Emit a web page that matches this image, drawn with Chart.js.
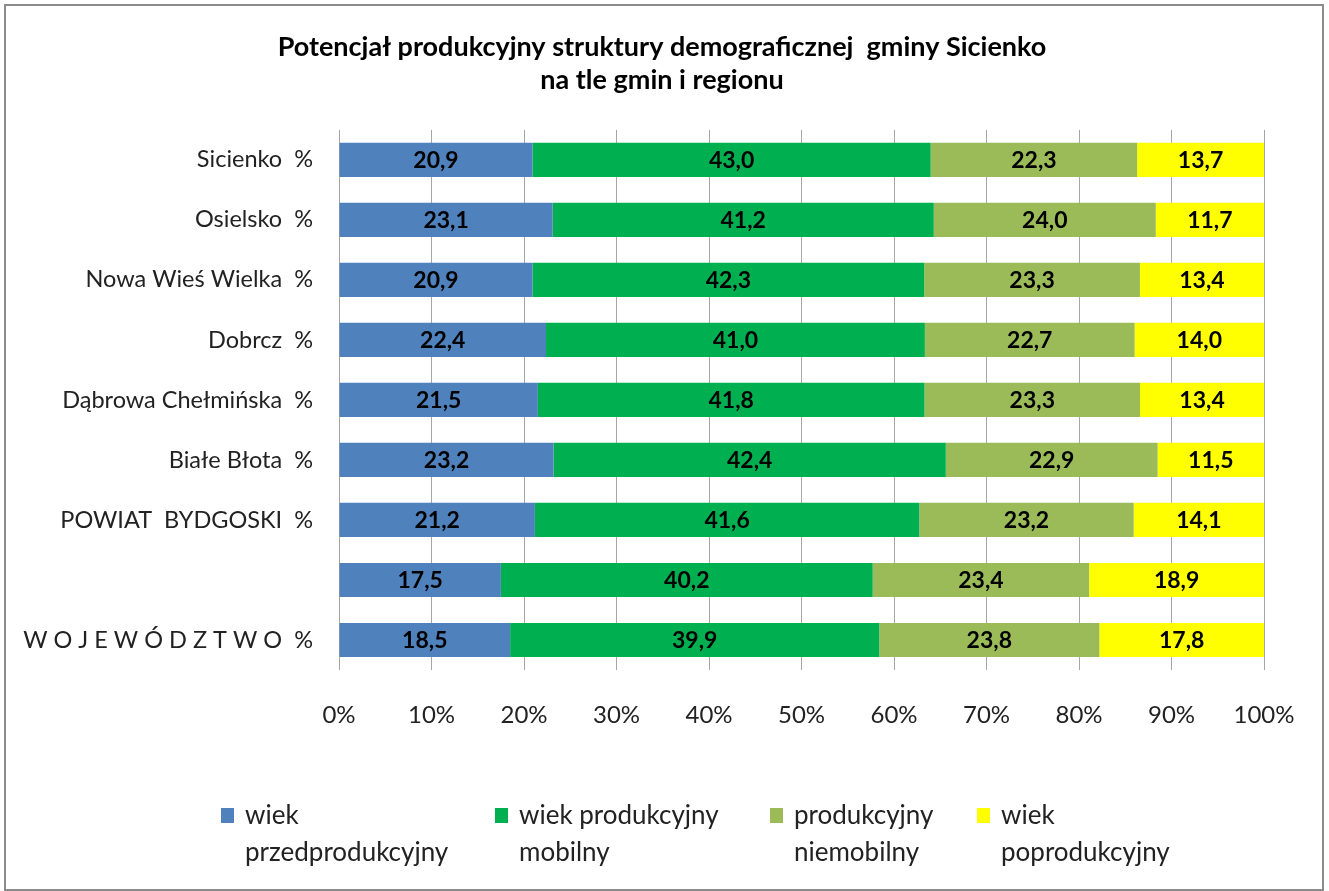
<!DOCTYPE html>
<html>
<head>
<meta charset="utf-8">
<script src="https://cdn.jsdelivr.net/npm/chart.js@4"></script>
<style>
  body { margin: 0; background: #fff; font-family: Lato, sans-serif; }
  #wrap { position: relative; width: 1329px; height: 891px; }
  #frame { position: absolute; left: 4px; top: 4px; width: 1316px; height: 883px; border: 2px solid #8c8c8c; pointer-events: none; }
  canvas { position: absolute; left: 0; top: 0; }
  .leg { position: absolute; top: 796px; font-size: 26px; line-height: 37px; color: #222; white-space: nowrap; }
  .leg span.box { position: absolute; left: -24px; top: 12px; width: 13px; height: 15px; }
</style>
</head>
<body>
<div id="wrap">
  <canvas id="chart" width="1329" height="891"></canvas>
  <div id="legend"></div>
  <div id="frame"></div>
</div>
<script>
// Categories, top to bottom
const categories = [
    'Sicienko  %',
    'Osielsko  %',
    'Nowa Wieś Wielka  %',
    'Dobrcz  %',
    'Dąbrowa Chełmińska  %',
    'Białe Błota  %',
    'POWIAT  BYDGOSKI  %',
    '',
    'W O J E W Ó D Z T W O  %'
];

// Series values (%)
const przedprodukcyjny = [20.9, 23.1, 20.9, 22.4, 21.5, 23.2, 21.2, 17.5, 18.5];
const produkcyjnyMobilny = [43.0, 41.2, 42.3, 41.0, 41.8, 42.4, 41.6, 40.2, 39.9];
const produkcyjnyNiemobilny = [22.3, 24.0, 23.3, 22.7, 23.3, 22.9, 23.2, 23.4, 23.8];
const poprodukcyjny = [13.7, 11.7, 13.4, 14.0, 13.4, 11.5, 14.1, 18.9, 17.8];

const tickLabels = ['0%', '10%', '20%', '30%', '40%', '50%', '60%', '70%', '80%', '90%', '100%'];

const seriesNames = [
    ['wiek', 'przedprodukcyjny'],
    ['wiek produkcyjny', 'mobilny'],
    ['produkcyjny', 'niemobilny'],
    ['wiek', 'poprodukcyjny']
];
const seriesColors = ['#4F81BD', '#00B050', '#9BBB59', '#FFFF00'];
const raw = [przedprodukcyjny, produkcyjnyMobilny, produkcyjnyNiemobilny, poprodukcyjny];

// 100% stacked: normalise each row, labels keep the raw values
const totals = categories.map((c, i) => raw.reduce((s, arr) => s + arr[i], 0));
const datasets = raw.map((arr, k) => ({
    label: seriesNames[k].join(' '),
    data: arr.map((v, i) => v / totals[i] * 100),
    rawValues: arr,
    backgroundColor: seriesColors[k],
    borderWidth: 0,
    categoryPercentage: 1,
    barPercentage: 0.57
}));

const FONT = 'Lato, sans-serif';

// Value labels in the middle of each segment
const valueLabels = {
    id: 'valueLabels',
    afterDatasetsDraw(chart) {
        const ctx = chart.ctx;
        ctx.save();
        ctx.font = 'bold 23px ' + FONT;
        ctx.fillStyle = '#000';
        ctx.textAlign = 'center';
        ctx.textBaseline = 'middle';
        chart.data.datasets.forEach((ds, k) => {
            chart.getDatasetMeta(k).data.forEach((bar, i) => {
                const p = bar.getProps(['x', 'y', 'base'], true);
                const cx = (p.x + p.base) / 2;
                ctx.fillText(ds.rawValues[i].toFixed(1).replace('.', ','), cx, p.y + 1);
            });
        });
        ctx.restore();
    }
};

new Chart(document.getElementById('chart'), {
    type: 'bar',
    data: { labels: categories, datasets: datasets },
    options: {
        indexAxis: 'y',
        responsive: false,
        animation: false,
        layout: { padding: { top: 31, right: 5, bottom: 161, left: 0 } },
        plugins: {
            legend: { display: false },
            tooltip: { enabled: false },
            title: {
                display: true,
                text: ['Potencjał produkcyjny struktury demograficznej  gminy Sicienko', 'na tle gmin i regionu'],
                color: '#000',
                font: { family: FONT, size: 27, weight: 'bold', lineHeight: 1.22 },
                padding: { top: 0, bottom: 33 }
            }
        },
        scales: {
            x: {
                stacked: true,
                min: 0,
                max: 100,
                afterBuildTicks(scale) {
                    scale.ticks = tickLabels.map((t, i) => ({ value: i * 10 }));
                },
                afterFit(scale) { scale.height = 60; },
                grid: { color: '#a6a6a6', lineWidth: 1, drawTicks: false },
                border: { display: false },
                ticks: {
                    padding: 31,
                    color: '#222',
                    font: { family: FONT, size: 24 },
                    callback: (v, i) => tickLabels[i]
                }
            },
            y: {
                stacked: true,
                afterFit(scale) { scale.width = 339; },
                grid: { display: false, drawTicks: false },
                border: { display: false },
                ticks: {
                    padding: 26,
                    color: '#222',
                    font: { family: FONT, size: 23.5 }
                }
            },
            y2: {
                position: 'right',
                type: 'category',
                labels: categories,
                afterFit(scale) { scale.width = 60; },
                grid: { display: false, drawTicks: false },
                border: { display: false },
                ticks: { display: false }
            }
        }
    },
    plugins: [valueLabels]
});

// Legend (two-line entries)
const legendLeft = [245, 519, 794, 1001];
const legendEl = document.getElementById('legend');
seriesNames.forEach((name, k) => {
    const d = document.createElement('div');
    d.className = 'leg';
    d.style.left = legendLeft[k] + 'px';
    d.innerHTML = '<span class="box" style="background:' + seriesColors[k] + '"></span>' + name[0] + '<br>' + name[1];
    legendEl.appendChild(d);
});
</script>
</body>
</html>
